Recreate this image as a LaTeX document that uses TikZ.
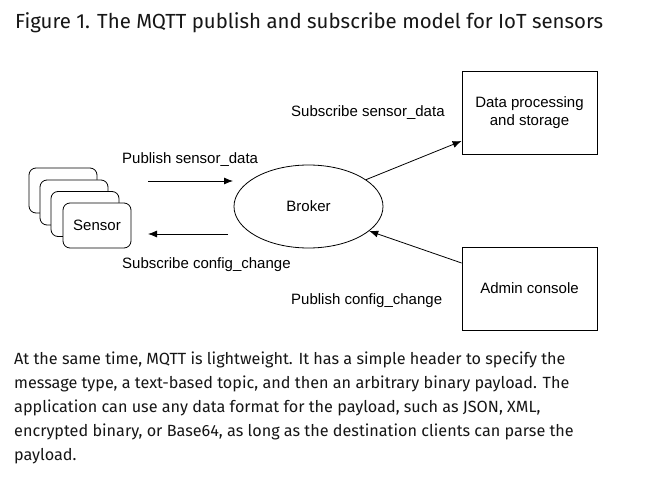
\documentclass[tikz,border=0pt]{standalone}
\usepackage{fontspec}
\setmainfont{Liberation Sans}
\newfontfamily\plexfont{Fira Sans}[Scale=1]
\usetikzlibrary{arrows.meta,shapes.geometric}
\definecolor{txt}{HTML}{161616}
\tikzset{
  lbl/.style={font=\fontsize{15}{17}\selectfont, inner sep=0pt, anchor=west},
  boxnode/.style={draw, line width=0.8pt, minimum width=135pt, minimum height=83pt, align=center, font=\fontsize{15}{18}\selectfont, inner sep=0pt},
  sensorbox/.style={draw, line width=0.8pt, fill=white, rounded corners=7pt, minimum width=68pt, minimum height=45pt, inner sep=0pt, font=\fontsize{15}{17}\selectfont},
  arr/.style={line width=0.8pt, -{Latex[length=9pt,width=7pt]}},
}
\begin{document}
\begin{tikzpicture}[x=1pt,y=-1pt]
\useasboundingbox[fill=white] (0,0) rectangle (666,486);
\node[anchor=base west, inner sep=0pt, text=txt, font=\plexfont\fontsize{20.4}{24}\selectfont] (title) at (15,29) {Figure 1. The MQTT publish and subscribe model for IoT sensors};

\node[boxnode] (data) at (529.5,112.5) {Data processing\\and storage};
\node[boxnode] (admin) at (529.5,288.5) {Admin console};
\node[draw, ellipse, line width=0.8pt, minimum width=149pt, minimum height=83pt, inner sep=0pt, font=\fontsize{15}{17}\selectfont] (broker) at (308.5,206.5) {Broker};

\node[sensorbox] (s1) at (63,190.5) {};
\node[sensorbox] (s2) at (74,202.5) {};
\node[sensorbox] (s3) at (85,214) {};
\node[sensorbox] (s4) at (97,225.5) {Sensor};

\coordinate (p1a) at (148,181);
\coordinate (p1b) at (233,181);
\coordinate (p2a) at (228,234);
\coordinate (p2b) at (148,234);
\draw[arr] (p1a) -- (p1b);
\draw[arr] (p2a) -- (p2b);
\node[lbl] (l1) at (122,160) {Publish sensor\_data};
\node[lbl] (l2) at (122,265) {Subscribe config\_change};
\node[lbl] (l3) at (291,113) {Subscribe sensor\_data};
\node[lbl] (l4) at (291,301) {Publish config\_change};

\draw[arr] (broker.25) -- (data.west |- 0,141);
\draw[arr] (admin.west |- 0,263) -- (broker.-22);

\node[anchor=base west, inner sep=0pt, text=txt, align=left, font=\plexfont\fontsize{16.2}{24}\selectfont] (para) at (14,364) {\begin{tabular}[t]{@{}l@{}}At the same time, MQTT is lightweight. It has a simple header to specify the\\message type, a text-based topic, and then an arbitrary binary payload. The\\application can use any data format for the payload, such as JSON, XML,\\encrypted binary, or Base64, as long as the destination clients can parse the\\payload.\end{tabular}};
\end{tikzpicture}
\end{document}
